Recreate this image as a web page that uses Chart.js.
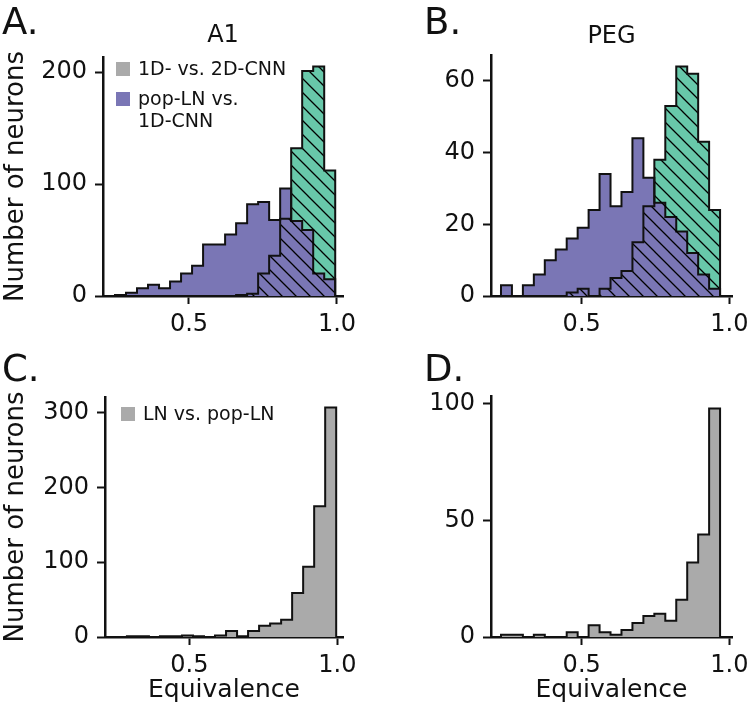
<!DOCTYPE html>
<html>
<head>
<meta charset="utf-8">
<script src="https://cdn.jsdelivr.net/npm/chart.js@4.4.1/dist/chart.umd.min.js"></script>
<style>
  html, body { margin: 0; padding: 0; background: #fff; }
  body { width: 750px; height: 712px; position: relative; overflow: hidden; font-family: "DejaVu Sans", sans-serif; }
  canvas { position: absolute; }
  .letter { position: absolute; font-size: 37px; line-height: 37px; color: #111; }
</style>
</head>
<body>
<canvas id="chartA" width="375" height="356" style="left:0;top:0"></canvas>
<canvas id="chartB" width="390" height="356" style="left:375px;top:0"></canvas>
<canvas id="chartC" width="375" height="356" style="left:0;top:356px"></canvas>
<canvas id="chartD" width="390" height="356" style="left:375px;top:356px"></canvas>
<div class="letter" style="left:2px;top:3px">A.</div>
<div class="letter" style="left:424px;top:3px">B.</div>
<div class="letter" style="left:2px;top:350px">C.</div>
<div class="letter" style="left:424px;top:350px">D.</div>
<script>
// 20 equal bins per histogram: first edge and bin width
const a1BinStart = 0.250, a1BinWidth = 0.0372;
const a1LnBinStart = 0.252;
const pegBinStart = 0.2266, pegBinWidth = 0.0371;

// neuron counts per bin
const a1PopLN  = [1, 3, 7, 10, 7, 13, 20, 27, 46, 46, 55, 65, 82, 84, 68, 96, 67, 59, 20, 15];
const a1CNN    = [0, 0, 0, 0, 0, 0, 0, 0, 0, 0, 0, 1, 2, 20, 36, 69, 132, 201, 205, 112];
const pegPopLN = [3, 0, 3, 6, 10, 13, 16, 19, 24, 34, 25, 29, 44, 33, 26, 22, 18, 12, 6, 2];
const pegCNN   = [0, 0, 0, 0, 0, 0, 1, 2, 0, 2, 5, 7, 15, 25, 38, 53, 64, 62, 43, 24];
const a1LN     = [0, 1, 1, 0, 1, 1, 2, 1, 0, 2, 8, 1, 8, 15, 18, 23, 59, 94, 175, 307];
const pegLN    = [1, 1, 0, 1, 0, 0, 2, 0, 5, 2, 1, 3, 6, 9, 10, 7, 16, 32, 44, 98];

const xTicks = [0.5, 1.0];
const yTicksA = [0, 100, 200];
const yTicksB = [0, 20, 40, 60];
const yTicksC = [0, 100, 200, 300];
const yTicksD = [0, 50, 100];

const legendTop = ['1D- vs. 2D-CNN', 'pop-LN vs.|1D-CNN'];
const legendBottom = ['LN vs. pop-LN'];

const INK = '#111';
const PURPLE = 'rgb(122, 118, 181)';
const TEAL = 'rgb(104, 200, 170)';
const GREY = 'rgb(170, 170, 170)';

Chart.defaults.font.family = '"DejaVu Sans", sans-serif';
Chart.defaults.color = INK;

function hatch() {
  const c = document.createElement('canvas');
  c.width = c.height = 14;
  const g = c.getContext('2d');
  g.strokeStyle = '#000';
  g.lineWidth = 1.3;
  g.beginPath();
  g.moveTo(-4, -4); g.lineTo(18, 18);
  g.moveTo(-4, 10); g.lineTo(4, 18);
  g.moveTo(10, -4); g.lineTo(18, 4);
  g.stroke();
  return g.createPattern(c, 'repeat');
}

// outline of a step histogram, left edge of each bin
function steps(counts, start, width) {
  const pts = [{x: start, y: 0}];
  counts.forEach((c, i) => pts.push({x: start + i * width, y: c}));
  pts.push({x: start + counts.length * width, y: 0});
  return pts;
}

function hist(counts, start, width, fill, edge, order) {
  return {
    data: steps(counts, start, width),
    stepped: true,
    fill: 'origin',
    backgroundColor: fill,
    borderColor: edge ? INK : 'rgba(0,0,0,0)',
    borderWidth: edge ? 2 : 0,
    pointRadius: 0,
    order: order
  };
}

const panelText = {
  id: 'panelText',
  afterDraw(chart, args, opts) {
    const {ctx, chartArea: a} = chart;
    ctx.save();
    if (opts.title) {
      ctx.fillStyle = INK;
      ctx.font = '24px "DejaVu Sans"';
      ctx.textAlign = 'center';
      ctx.textBaseline = 'alphabetic';
      ctx.fillText(opts.title, (a.left + a.right) / 2, opts.titleY);
    }
    (opts.legend || []).forEach(item => {
      ctx.fillStyle = item.color;
      ctx.fillRect(a.left + item.x, a.top + item.y, 14, 14);
      ctx.fillStyle = INK;
      ctx.font = '19px "DejaVu Sans"';
      ctx.textAlign = 'left';
      ctx.textBaseline = 'middle';
      item.text.split('|').forEach((line, k) => {
        ctx.fillText(line, a.left + item.x + 22, a.top + item.y + 8 + k * 22);
      });
    });
    ctx.restore();
  }
};

function makePanel(id, p) {
  return new Chart(document.getElementById(id), {
    type: 'line',
    data: {datasets: p.datasets},
    options: {
      responsive: false,
      animation: false,
      events: [],
      layout: {padding: {top: p.top, left: 0, right: p.right, bottom: 0}},
      plugins: {
        legend: {display: false},
        tooltip: {enabled: false},
        panelText: {title: p.title, titleY: p.titleY, legend: p.legend}
      },
      scales: {
        x: {
          type: 'linear',
          min: p.xMin, max: p.xMax,
          z: 1,
          border: {display: true, color: INK, width: 2.5},
          grid: {drawOnChartArea: false, drawTicks: true, tickLength: 8, tickWidth: 2, tickColor: INK},
          ticks: {font: {size: 24}, color: INK, padding: 6, maxRotation: 0, autoSkip: false,
                  callback: v => v.toFixed(1)},
          afterBuildTicks: ax => { ax.ticks = xTicks.map(v => ({value: v})); },
          afterFit: sc => { sc.height = p.xHeight; },
          title: {display: !!p.xTitle, text: p.xTitle, font: {size: 25}, color: INK,
                  padding: {top: 0, bottom: 7}}
        },
        y: {
          type: 'linear',
          min: 0, max: p.yMax,
          z: 1,
          border: {display: true, color: INK, width: 2.5},
          grid: {drawOnChartArea: false, drawTicks: true, tickLength: 8, tickWidth: 2, tickColor: INK},
          ticks: {font: {size: 24}, color: INK, padding: 8, autoSkip: false,
                  callback: v => String(v)},
          afterBuildTicks: ax => { ax.ticks = p.yTicks.map(v => ({value: v})); },
          afterFit: sc => { sc.width = p.yWidth; },
          title: {display: !!p.yTitle, text: p.yTitle, font: {size: 26}, color: INK,
                  padding: {top: 1, bottom: 0}}
        }
      }
    },
    plugins: [panelText]
  });
}

const HATCH = hatch();

makePanel('chartA', {
  datasets: [
    hist(a1CNN, a1BinStart, a1BinWidth, TEAL, false, 3),
    hist(a1PopLN, a1BinStart, a1BinWidth, PURPLE, true, 2),
    hist(a1CNN, a1BinStart, a1BinWidth, HATCH, true, 1)
  ],
  top: 57, right: 32, yWidth: 103, xHeight: 60,
  xMin: 0.2095, xMax: 1.0203, yMax: 213.5, yTicks: yTicksA,
  yTitle: 'Number of neurons',
  title: 'A1', titleY: 42,
  legend: [
    {color: GREY, x: 13, y: 5, text: legendTop[0]},
    {color: PURPLE, x: 13, y: 35, text: legendTop[1]}
  ]
});

makePanel('chartB', {
  datasets: [
    hist(pegCNN, pegBinStart, pegBinWidth, TEAL, false, 3),
    hist(pegPopLN, pegBinStart, pegBinWidth, PURPLE, true, 2),
    hist(pegCNN, pegBinStart, pegBinWidth, HATCH, true, 1)
  ],
  top: 55, right: 33, yWidth: 116, xHeight: 60,
  xMin: 0.1928, xMax: 1.009, yMax: 67.2, yTicks: yTicksB,
  title: 'PEG', titleY: 43
});

makePanel('chartC', {
  datasets: [hist(a1LN, a1LnBinStart, a1BinWidth, GREY, true, 1)],
  top: 41, right: 32, yWidth: 105, xHeight: 75,
  xMin: 0.2152, xMax: 1.019, yMax: 321, yTicks: yTicksC,
  yTitle: 'Number of neurons', xTitle: 'Equivalence',
  legend: [{color: GREY, x: 16, y: 10, text: legendBottom[0]}]
});

makePanel('chartD', {
  datasets: [hist(pegLN, pegBinStart, pegBinWidth, GREY, true, 1)],
  top: 40, right: 33, yWidth: 116, xHeight: 75,
  xMin: 0.1928, xMax: 1.009, yMax: 103.4, yTicks: yTicksD,
  xTitle: 'Equivalence'
});
</script>
</body>
</html>
